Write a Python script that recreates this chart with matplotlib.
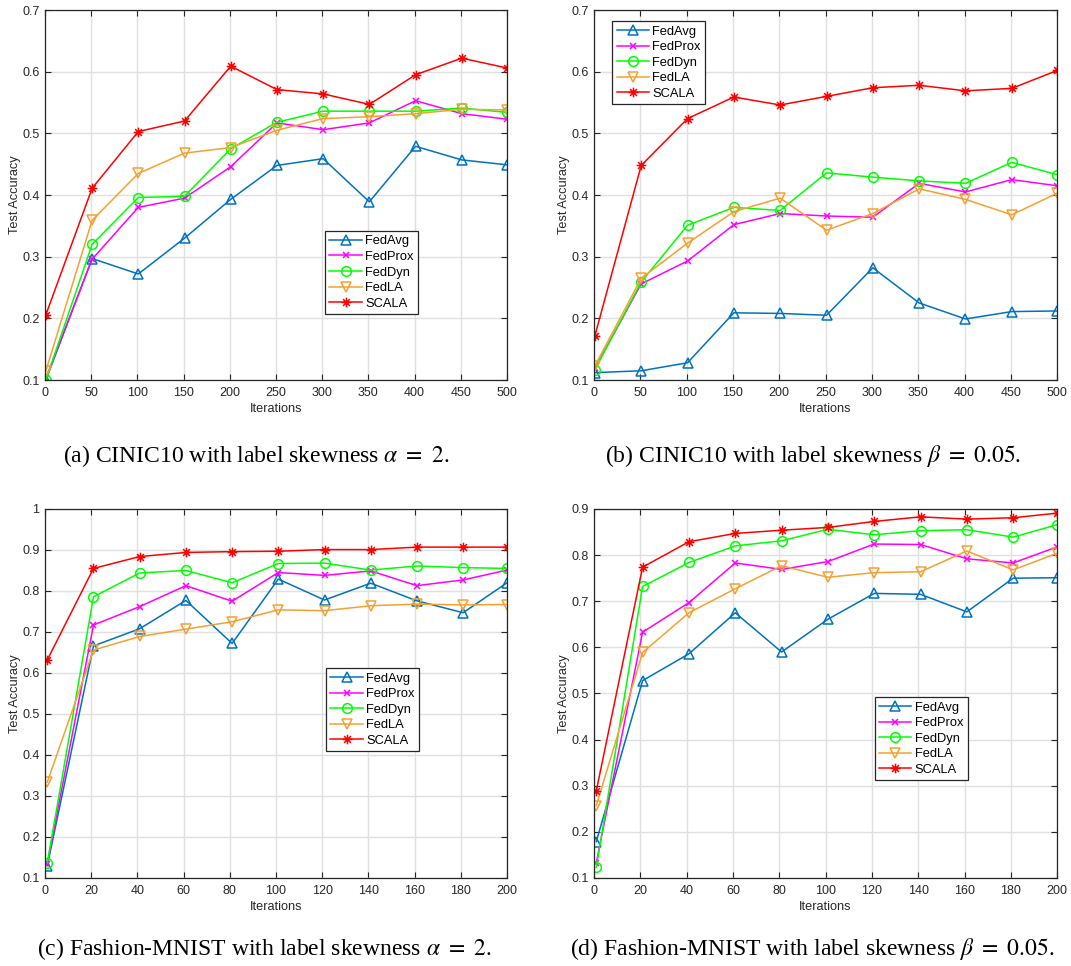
import numpy as np
import matplotlib
matplotlib.use("Agg")
import matplotlib.pyplot as plt
from matplotlib.path import Path

plt.rcParams['font.family'] = ['Liberation Sans', 'DejaVu Sans']
plt.rcParams['mathtext.fontset'] = 'stix'

# iterations
iters_cinic = [1, 51, 101, 151, 201, 251, 301, 351, 401, 451, 500]
iters_fmnist = [1, 21, 41, 61, 81, 101, 121, 141, 161, 181, 200]

methods = ['FedAvg', 'FedProx', 'FedDyn', 'FedLA', 'SCALA']

# (a) CINIC10, alpha = 2
a_fedavg = [0.100, 0.297, 0.272, 0.330, 0.393, 0.448, 0.459, 0.389, 0.479, 0.457, 0.449]
a_fedprox = [0.103, 0.296, 0.380, 0.395, 0.446, 0.517, 0.506, 0.517, 0.553, 0.532, 0.523]
a_feddyn = [0.100, 0.320, 0.396, 0.398, 0.475, 0.518, 0.536, 0.536, 0.536, 0.541, 0.534]
a_fedla = [0.115, 0.359, 0.435, 0.468, 0.477, 0.505, 0.524, 0.527, 0.532, 0.539, 0.538]
a_scala = [0.206, 0.411, 0.503, 0.520, 0.609, 0.571, 0.564, 0.547, 0.595, 0.622, 0.606]

# (b) CINIC10, beta = 0.05
b_fedavg = [0.112, 0.115, 0.128, 0.209, 0.208, 0.205, 0.282, 0.225, 0.199, 0.211, 0.212]
b_fedprox = [0.119, 0.256, 0.293, 0.352, 0.370, 0.366, 0.364, 0.419, 0.405, 0.425, 0.415]
b_feddyn = [0.117, 0.259, 0.351, 0.380, 0.375, 0.436, 0.429, 0.423, 0.419, 0.453, 0.433]
b_fedla = [0.123, 0.265, 0.322, 0.373, 0.395, 0.343, 0.370, 0.410, 0.393, 0.368, 0.403]
b_scala = [0.172, 0.448, 0.524, 0.559, 0.546, 0.560, 0.574, 0.578, 0.569, 0.573, 0.602]

# (c) Fashion-MNIST, alpha = 2
c_fedavg = [0.130, 0.666, 0.708, 0.777, 0.672, 0.829, 0.778, 0.819, 0.776, 0.747, 0.820]
c_fedprox = [0.135, 0.717, 0.762, 0.813, 0.775, 0.845, 0.838, 0.849, 0.813, 0.827, 0.851]
c_feddyn = [0.137, 0.786, 0.844, 0.850, 0.820, 0.867, 0.868, 0.851, 0.861, 0.857, 0.855]
c_fedla = [0.334, 0.656, 0.689, 0.707, 0.725, 0.754, 0.752, 0.764, 0.768, 0.766, 0.767]
c_scala = [0.632, 0.855, 0.884, 0.894, 0.896, 0.897, 0.901, 0.901, 0.907, 0.907, 0.907]

# (d) Fashion-MNIST, beta = 0.05
d_fedavg = [0.179, 0.528, 0.586, 0.675, 0.590, 0.661, 0.717, 0.715, 0.677, 0.750, 0.751]
d_fedprox = [0.133, 0.633, 0.697, 0.783, 0.769, 0.786, 0.824, 0.823, 0.792, 0.783, 0.818]
d_feddyn = [0.123, 0.732, 0.784, 0.820, 0.831, 0.856, 0.844, 0.853, 0.855, 0.839, 0.866]
d_fedla = [0.257, 0.589, 0.675, 0.727, 0.777, 0.752, 0.762, 0.764, 0.809, 0.768, 0.804]
d_scala = [0.289, 0.774, 0.829, 0.847, 0.854, 0.860, 0.873, 0.883, 0.878, 0.881, 0.891]

captions = [r"(a) CINIC10 with label skewness $\alpha\ =\ 2$.",
            r"(b) CINIC10 with label skewness $\beta\ =\ 0.05$.",
            r"(c) Fashion-MNIST with label skewness $\alpha\ =\ 2$.",
            r"(d) Fashion-MNIST with label skewness $\beta\ =\ 0.05$."]

# matlab style asterisk marker
ast = Path([(0, -1), (0, 1), (-1, 0), (1, 0), (-0.7, -0.7), (0.7, 0.7), (-0.7, 0.7), (0.7, -0.7)],
           [Path.MOVETO, Path.LINETO] * 4)

colors = ['#0072BD', '#FF00FF', '#00FF00', '#F5A030', '#FF0000']
markers = ['^', 'x', 'o', 'v', ast]
msizes = [7, 5, 7, 7, 7]

fig = plt.figure(figsize=(10.71, 9.66), dpi=100)

ax_pos = [[0.042, 0.6066, 0.4314, 0.383],
          [0.5546, 0.6066, 0.4325, 0.383],
          [0.042, 0.0911, 0.4314, 0.382],
          [0.5546, 0.0911, 0.4325, 0.382]]

panels = [
    (iters_cinic, [a_fedavg, a_fedprox, a_feddyn, a_fedla, a_scala], 500, 50, (0.1, 0.7), (0.606, 0.403)),
    (iters_cinic, [b_fedavg, b_fedprox, b_feddyn, b_fedla, b_scala], 500, 50, (0.1, 0.7), (0.039, 0.970)),
    (iters_fmnist, [c_fedavg, c_fedprox, c_feddyn, c_fedla, c_scala], 200, 20, (0.1, 1.0), (0.608, 0.569)),
    (iters_fmnist, [d_fedavg, d_fedprox, d_feddyn, d_fedla, d_scala], 200, 20, (0.1, 0.9), (0.606, 0.490)),
]

cap_x = [0.239, 0.759, 0.247, 0.758]
cap_y = [0.5215, 0.5215, 0.0115, 0.0115]

for i, (xs, series, xmax, xstep, ylim, leg_anchor) in enumerate(panels):
    ax = fig.add_axes(ax_pos[i])
    for j, ys in enumerate(series):
        mfc = 'none' if markers[j] in ('^', 'o', 'v') else colors[j]
        ax.plot(xs, ys, color=colors[j], marker=markers[j], markersize=msizes[j],
                markerfacecolor=mfc, markeredgewidth=1.1, linewidth=1.1, label=methods[j])
    ax.set_xlim(0, xmax)
    ax.set_ylim(*ylim)
    yt = np.round(np.arange(ylim[0], ylim[1] + 0.001, 0.1), 1)
    ax.set_xticks(np.arange(0, xmax + 1, xstep))
    ax.set_yticks(yt)
    ax.set_yticklabels([('%g' % v) for v in yt])
    ax.grid(True, color='#E0E0E0', linewidth=1.0)
    ax.set_axisbelow(True)
    ax.tick_params(direction='in', top=True, right=True, length=4, width=0.8,
                   labelsize=9, colors='#262626', pad=4)
    ax.tick_params(axis='x', pad=5)
    for s in ax.spines.values():
        s.set_color('#262626')
        s.set_linewidth(0.9)
    ax.set_xlabel('Iterations', fontsize=9.2, color='#262626', labelpad=3)
    ax.set_ylabel('Test Accuracy', fontsize=9.2, color='#262626', labelpad=1)
    leg = ax.legend(loc='upper left', bbox_to_anchor=leg_anchor, fontsize=9.3,
                    fancybox=False, framealpha=1, edgecolor='#262626',
                    borderpad=0.35, labelspacing=0.27, handlelength=2.5,
                    handletextpad=0.25, borderaxespad=0)
    leg.get_frame().set_linewidth(0.9)
    fig.text(cap_x[i], cap_y[i], captions[i], ha='center', va='baseline',
             fontsize=17, family='Liberation Serif')

fig.savefig('out.png', dpi=100)
